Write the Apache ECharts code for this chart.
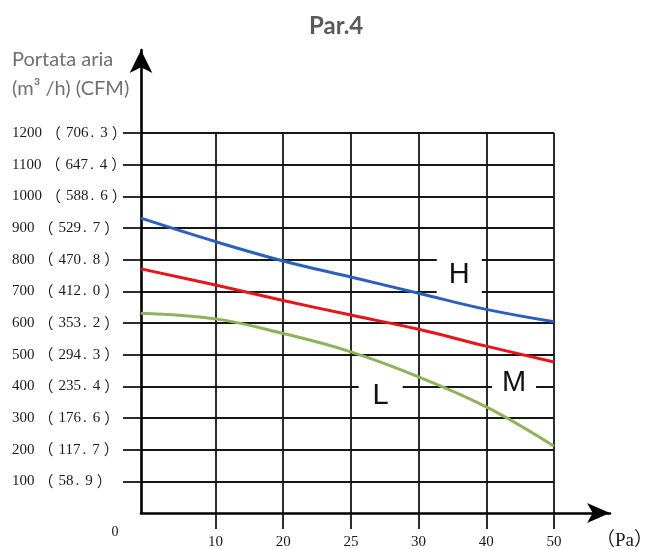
<!DOCTYPE html>
<html><head><meta charset="utf-8">
<script src="https://cdn.jsdelivr.net/npm/echarts@6/dist/echarts.min.js"></script>
<style>html,body{margin:0;padding:0;background:#fff}#c{width:649px;height:549px}</style>
</head><body><div id="c"></div>
<script>
// ---- data ----
const pressureLabels = ['0', '10', '20', '25', '30', '40', '50'];
const seriesH = [931, 857, 796, 745, 694, 643, 604];
const seriesM = [771, 720, 671, 625, 580, 527, 477];
const seriesL = [631, 613, 567, 509, 430, 335, 211];
const curveNames = ['H', 'M', 'L'];
const yTickValues = [100, 200, 300, 400, 500, 600, 700, 800, 900, 1000, 1100, 1200];
const yTickLabels = ['100（58.9）', '200（117.7）', '300（176.6）', '400（235.4）', '500（294.3）',
  '600（353.2）', '700（412.0）', '800（470.8）', '900（529.7）', '1000（588.6）', '1100（647.4）', '1200（706.3）'];
const titleText = 'Par.4';
const xTitle = '（Pa）';
const yTitleLines = ['Portata aria', '(m³ /h) (CFM)'];
const originLabel = '0';

// ---- layout ----
const X_START = -0.1;               // origin sits a little before the first division
const xDivisions = [1, 2, 3, 4, 5, 6];
const xPos = pressureLabels.map((p, i) => (i === 0 ? X_START : i));
const labelAnchors = { H: [4.6, 752], M: [5.41, 410], L: [3.44, 368] };
const labelBoxes = { H: [45, 40], M: [44, 30], L: [44, 30] };
const colors = { H: '#2a5fbd', M: '#e8141c', L: '#8fb35a' };
const gridLine = { color: '#161616', width: 1.8 };
const serif = "'Liberation Serif', 'Noto Sans CJK SC', serif";
const cjk = "'Noto Sans CJK SC', 'Liberation Serif', serif";
const labelColor = '#1a1a1a';

const seriesData = { H: seriesH, M: seriesM, L: seriesL };

function richY(v) {
  const s = yTickLabels[yTickValues.indexOf(v)];
  if (!s) return '';
  const m = s.match(/^(\d+)（(\d+)\.(\d)）$/);
  if (!m) return s;
  return '{n|' + m[1] + '}{p1|（}{n|' + m[2] + '}{d|.}{n|' + m[3] + '}{p2|）}';
}

const chart = echarts.init(document.getElementById('c'), null, { renderer: 'canvas' });

const series = curveNames.map(name => ({
  name,
  type: 'line',
  xAxisIndex: 0, yAxisIndex: 0,
  smooth: 0.4,
  showSymbol: false,
  lineStyle: { color: colors[name], width: 3 },
  itemStyle: { color: colors[name] },
  data: seriesData[name].map((v, i) => [xPos[i], v]),
  markPoint: {
    symbol: 'rect',
    symbolSize: labelBoxes[name],
    itemStyle: { color: '#ffffff' },
    label: { show: true, position: 'inside', formatter: name, color: '#111',
      fontFamily: "'Liberation Sans', Arial, sans-serif", fontSize: 29 },
    data: [{ coord: labelAnchors[name] }]
  },
  z: 3
}));

chart.setOption({
  animation: false,
  backgroundColor: '#ffffff',
  title: {
    text: titleText, left: 304, top: 9,
    textStyle: { fontFamily: 'Lato, sans-serif', fontWeight: 'bold', fontSize: 24, color: '#5a5a5a' }
  },
  grid: [
    { left: 141, top: 133, width: 413, height: 380, outerBoundsMode: 'none', containLabel: false },
    { left: 141, top: 50, width: 469, height: 463, outerBoundsMode: 'none', containLabel: false }
  ],
  xAxis: [
    {
      type: 'value', gridIndex: 0, min: X_START, max: 6,
      axisLine: { show: false },
      axisTick: { show: true, customValues: xDivisions, length: 16, lineStyle: gridLine },
      axisLabel: { customValues: xDivisions, formatter: v => pressureLabels[Math.round(v)],
        margin: 22, fontFamily: serif, fontSize: 15, color: labelColor },
      splitLine: { show: true, lineStyle: gridLine }
    },
    {
      type: 'value', gridIndex: 1, min: 0, max: 1,
      axisLine: { show: true, symbol: ['none', 'arrow'], symbolSize: [15, 23],
        lineStyle: { color: '#000', width: 2.6 } },
      axisTick: { show: false }, axisLabel: { show: false }, splitLine: { show: false }
    }
  ],
  yAxis: [
    {
      type: 'value', gridIndex: 0, min: 0, max: 1200, interval: 100,
      axisLine: { show: false, onZero: false },
      axisTick: { show: true, customValues: yTickValues, length: 18, lineStyle: gridLine },
      axisLabel: { customValues: yTickValues, formatter: richY,
        align: 'left', margin: 129, color: labelColor,
        rich: {
          n: { fontFamily: serif, fontSize: 15, color: labelColor },
          p1: { fontFamily: cjk, fontSize: 15, color: labelColor, padding: [0, 5, 0, 4] },
          d: { fontFamily: serif, fontSize: 15, color: labelColor, padding: [0, 6, 0, 2] },
          p2: { fontFamily: cjk, fontSize: 15, color: labelColor, padding: [0, 0, 0, 4] }
        } },
      splitLine: { show: true, lineStyle: gridLine }
    },
    {
      type: 'value', gridIndex: 1, min: 0, max: 1,
      axisLine: { show: true, onZero: false, symbol: ['none', 'arrow'], symbolSize: [17, 23],
        lineStyle: { color: '#000', width: 2.6 } },
      axisTick: { show: false }, axisLabel: { show: false }, splitLine: { show: false }
    }
  ],
  graphic: [
    { type: 'text', left: 12, top: 45,
      style: { text: yTitleLines.join('\n'), fontFamily: 'Lato, sans-serif', fontSize: 20,
        lineHeight: 29, fill: '#707070' } },
    { type: 'text', x: 115, y: 532,
      style: { text: originLabel, fontFamily: serif, fontSize: 14, fill: labelColor,
        align: 'center', verticalAlign: 'middle' } },
    { type: 'text', x: 596, y: 541,
      style: { text: xTitle, fontFamily: serif, fontSize: 19, fill: labelColor,
        align: 'left', verticalAlign: 'middle' } }
  ],
  series
});
</script>
</body></html>
